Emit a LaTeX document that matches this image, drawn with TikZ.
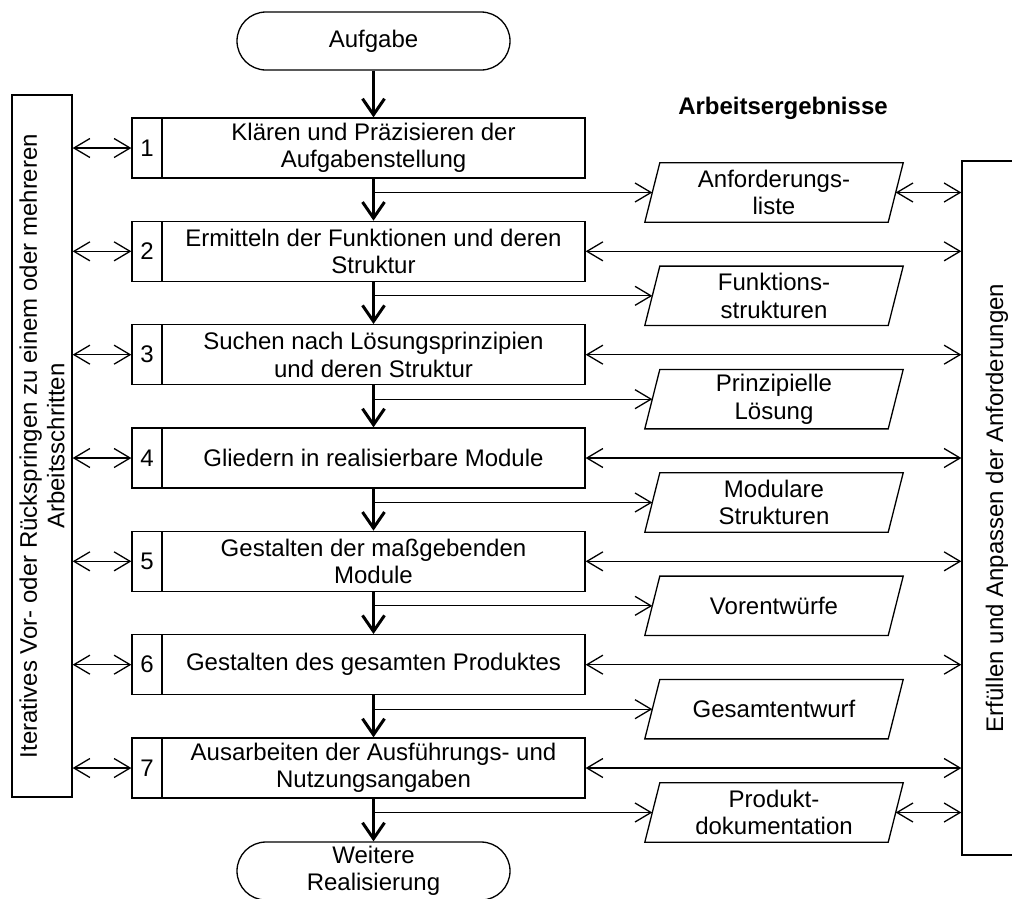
\documentclass[tikz,border=0pt]{standalone}
\usepackage{fontspec}
\setmainfont{Liberation Sans}
\usetikzlibrary{arrows.meta}
\begin{document}
\begin{tikzpicture}[x=1pt,y=-1pt,
  every node/.style={font=\fontsize{24}{27.5}\selectfont, inner sep=0pt},
  box/.style={draw, line width=1.3pt, minimum height=60pt},
  numbox/.style={box, minimum width=30pt},
  txtbox/.style={box, minimum width=423pt, align=center},
  term/.style={draw, line width=1.3pt, rounded corners=29pt, minimum width=273pt, minimum height=58pt, align=center},
  result/.style={minimum width=243pt, minimum height=59pt, align=center},
  side/.style={draw, line width=1.3pt, rotate=90, align=center},
  flow/.style={line width=3pt, -{Straight Barb[length=16pt,width=22pt]}},
  link/.style={line width=1.3pt, -{Straight Barb[length=16pt,width=19pt]}},
  both/.style={line width=1.3pt, {Straight Barb[length=16pt,width=19pt]}-{Straight Barb[length=16pt,width=19pt]}},
]
\useasboundingbox (0,0) rectangle (1012,898);
\clip (0,0) rectangle (1012,898);

% start and end
\node[term] (start) at (373.5,41) {Aufgabe};
\node[term] (stop) at (373.5,871) {Weitere\\Realisierung};

% heading of the result column
\node[font=\fontsize{24}{27.5}\selectfont\bfseries] (head) at (783,108) {Arbeitsergebnisse};

% side bars
\node[side, minimum width=702pt, minimum height=60pt] (lbox) at (42,446)
  {Iteratives Vor- oder Rückspringen zu einem oder mehreren\\Arbeitsschritten};
\node[side, minimum width=694pt, minimum height=70pt] (rbox) at (997,508)
  {Erfüllen und Anpassen der Anforderungen};

% working steps
\node[numbox] (n1) at (147,148) {1};
\node[txtbox] (s1) at (373.5,148) {Klären und Präzisieren der\\Aufgabenstellung};
\node[numbox] (n2) at (147,251.33) {2};
\node[txtbox] (s2) at (373.5,251.33) {Ermitteln der Funktionen und deren\\Struktur};
\node[numbox] (n3) at (147,354.67) {3};
\node[txtbox] (s3) at (373.5,354.67) {Suchen nach Lösungsprinzipien\\und deren Struktur};
\node[numbox] (n4) at (147,458) {4};
\node[txtbox] (s4) at (373.5,458) {Gliedern in realisierbare Module};
\node[numbox] (n5) at (147,561.33) {5};
\node[txtbox] (s5) at (373.5,561.33) {Gestalten der maßgebenden\\Module};
\node[numbox] (n6) at (147,664.67) {6};
\node[txtbox] (s6) at (373.5,664.67) {Gestalten des gesamten Produktes};
\node[numbox] (n7) at (147,768) {7};
\node[txtbox] (s7) at (373.5,768) {Ausarbeiten der Ausführungs- und\\Nutzungsangaben};

% work results
\node[result] (r1) at (774,192.5) {Anforderungs-\\liste};
\node[result] (r2) at (774,295.83) {Funktions-\\strukturen};
\node[result] (r3) at (774,399.17) {Prinzipielle\\Lösung};
\node[result] (r4) at (774,502.5) {Modulare\\Strukturen};
\node[result] (r5) at (774,605.83) {Vorentwürfe};
\node[result] (r6) at (774,709.17) {Gesamtentwurf};
\node[result] (r7) at (774,812.5) {Produkt-\\dokumentation};
\foreach \r in {r1,r2,r3,r4,r5,r6,r7}
  \draw[line width=1.3pt] ([xshift=-7.5pt]\r.south west) -- ([xshift=7.5pt]\r.north west)
    -- ([xshift=7.5pt]\r.north east) -- ([xshift=-7.5pt]\r.south east) -- cycle;

% main flow
\draw[flow] (start) -- (s1);
\draw[flow] (s1) -- (s2);
\draw[flow] (s2) -- (s3);
\draw[flow] (s3) -- (s4);
\draw[flow] (s4) -- (s5);
\draw[flow] (s5) -- (s6);
\draw[flow] (s6) -- (s7);
\draw[flow] (s7) -- (stop);

% branches to the results
\foreach \k in {1,...,7}
  \draw[link] (s\k.south |- r\k.west) -- (r\k.west);

% links back to any step
\foreach \k in {1,...,7}
  \draw[both] (lbox.south |- n\k.west) -- (n\k.west);

% links to the requirements
\foreach \k in {2,...,7}
  \draw[both] (s\k.east) -- (s\k.east -| rbox.north);
\draw[both] (r1.east) -- (r1.east -| rbox.north);
\draw[both] (r7.east) -- (r7.east -| rbox.north);
\end{tikzpicture}
\end{document}
